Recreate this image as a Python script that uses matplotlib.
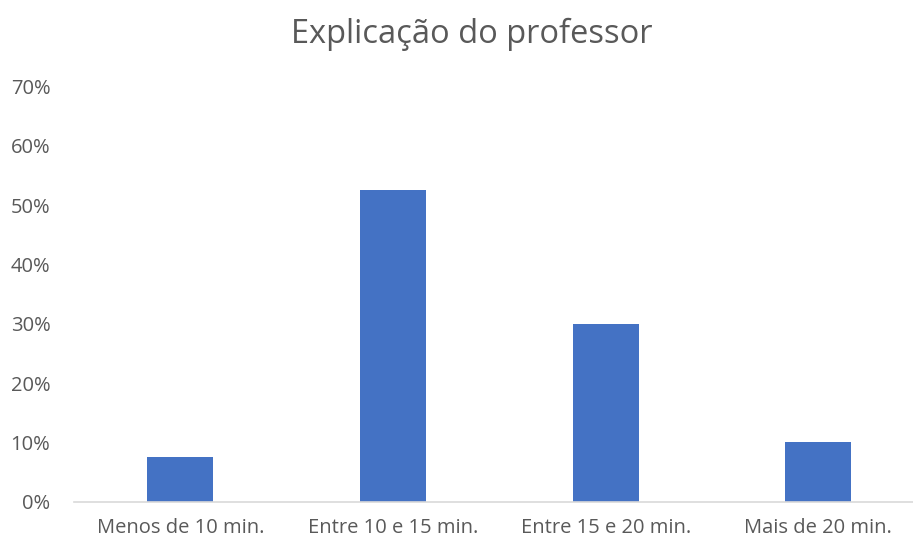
import matplotlib
matplotlib.use("Agg")
import matplotlib.pyplot as plt
from matplotlib.ticker import PercentFormatter

# dados
categorias = ["Menos de 10 min.", "Entre 10 e 15 min.", "Entre 15 e 20 min.", "Mais de 20 min."]
percentuais = [7.5, 52.5, 30.0, 10.0]
y_ticks = [0, 10, 20, 30, 40, 50, 60, 70]

plt.rcParams['font.family'] = ['Open Sans', 'DejaVu Sans']
cinza = '#595959'

fig = plt.figure(figsize=(9.13, 5.45), dpi=100)
ax = fig.add_axes([74/913, 43.3/545, 839/913, 415/545])

x = range(len(categorias))
ax.bar(x, percentuais, width=0.31, color='#4472c4')

ax.set_xlim(-0.5, 3.445)
ax.set_ylim(0, 70)
ax.set_yticks(y_ticks)
ax.yaxis.set_major_formatter(PercentFormatter(decimals=0))
ax.set_xticks(list(x))
ax.set_xticklabels(categorias)

for s in ['top', 'right', 'left']:
    ax.spines[s].set_visible(False)
ax.spines['bottom'].set_color('#d9d9d9')
ax.spines['bottom'].set_linewidth(1.2)
ax.tick_params(axis='both', length=0, colors=cinza, labelsize=14.5)
ax.tick_params(axis='x', pad=12)
ax.tick_params(axis='y', pad=17)

fig.text(472/913, 1 - 34/545, "Explicação do professor", ha='center', va='center',
         fontsize=23.5, color=cinza)

fig.savefig("out.png", dpi=100)
